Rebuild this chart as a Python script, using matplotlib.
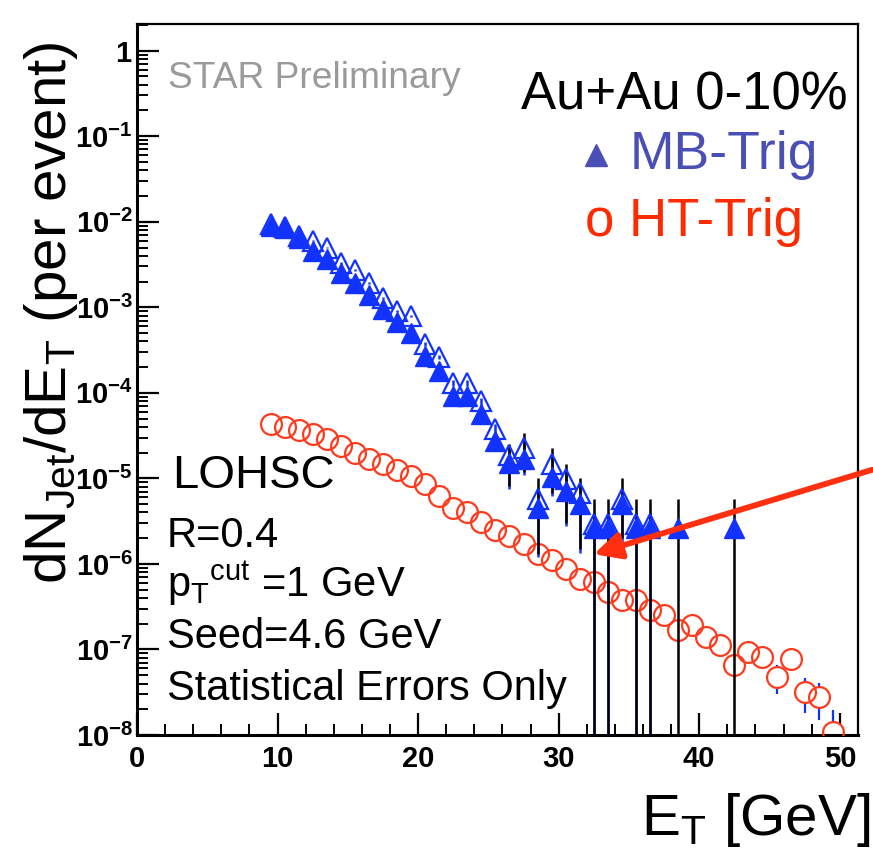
import numpy as np
import matplotlib
matplotlib.use("Agg")
import matplotlib.pyplot as plt
from matplotlib.ticker import LogLocator, MultipleLocator, NullFormatter

plt.rcParams['font.family'] = ['Liberation Sans', 'DejaVu Sans']
plt.rcParams['mathtext.fontset'] = 'custom'
plt.rcParams['mathtext.rm'] = 'Liberation Sans'
plt.rcParams['mathtext.bf'] = 'Liberation Sans:bold'
plt.rcParams['mathtext.it'] = 'Liberation Sans:italic'

# MB-Trig, filled triangles (black error bars)
mb_et = [9.5, 10.5, 11.5, 12.5, 13.5, 14.5, 15.5, 16.5, 17.5, 18.5, 19.5, 20.5,
         21.5, 22.5, 23.5, 24.5, 25.5, 26.5, 27.5, 28.5, 29.5, 30.5, 31.5, 32.5,
         33.5, 34.5, 35.5, 36.5, 38.5, 42.5]
mb_val = [9.0e-3, 8.5e-3, 6.5e-3, 4.6e-3, 3.7e-3, 2.5e-3, 1.9e-3, 1.4e-3, 9.6e-4,
          6.8e-4, 5.0e-4, 2.7e-4, 1.8e-4, 9.2e-5, 9.2e-5, 5.6e-5, 2.7e-5, 1.5e-5,
          1.7e-5, 4.5e-6, 1.05e-5, 7.1e-6, 5.0e-6, 2.6e-6, 2.6e-6, 5.0e-6, 2.6e-6,
          2.6e-6, 2.6e-6, 2.6e-6]
mb_err_up = [2e-4, 2e-4, 1.5e-4, 1.2e-4, 1e-4, 8e-5, 7e-5, 5e-5, 4e-5, 3e-5, 2.5e-5,
             1.8e-5, 1.4e-5, 1e-5, 1e-5, 8e-6, 5.5e-6, 1.0e-5, 1.7e-5, 5.5e-6, 1.2e-5,
             7.5e-6, 5e-6, 3.2e-6, 3.2e-6, 5e-6, 3.2e-6, 3.2e-6, 3.2e-6, 3.2e-6]
mb_err_dn = [2e-4, 2e-4, 1.5e-4, 1.2e-4, 1e-4, 8e-5, 7e-5, 5e-5, 4e-5, 3e-5, 2.5e-5,
             1.8e-5, 1.4e-5, 1e-5, 1e-5, 8e-6, 5.5e-6, 6.9e-6, 5e-6, 3.2e-6, 3.8e-6,
             4.1e-6, 3.5e-6, 3e-6, 3e-6, 3e-6, 3e-6, 3e-6, 3e-6, 3e-6]

# MB-Trig, open triangles (blue error bars)
mbo_et = [9.5, 10.5, 11.5, 12.5, 13.5, 14.5, 15.5, 16.5, 17.5, 18.5, 19.5, 20.5,
          21.5, 22.5, 23.5, 24.5, 25.5, 26.5, 27.5, 28.5, 29.5, 30.5, 31.5, 32.5,
          33.5, 34.5, 35.5, 36.5]
mbo_val = [9.3e-3, 8.6e-3, 6.8e-3, 6.0e-3, 5.0e-3, 3.3e-3, 2.7e-3, 1.94e-3, 1.29e-3,
           9.1e-4, 7.9e-4, 3.7e-4, 2.6e-4, 1.3e-4, 1.3e-4, 8.0e-5, 3.8e-5, 1.9e-5,
           2.25e-5, 5.8e-6, 1.46e-5, 9.8e-6, 6.7e-6, 2.9e-6, 2.9e-6, 5.8e-6, 2.9e-6,
           2.9e-6]
mbo_err_up = [2e-4, 2e-4, 1.5e-4, 1.2e-4, 1e-4, 8e-5, 7e-5, 5e-5, 4e-5, 3e-5, 2.5e-5,
              1.8e-5, 1.4e-5, 1e-5, 1e-5, 8e-6, 5e-6, 4e-6, 4e-6, 2e-6, 3e-6, 2e-6,
              2e-6, 1e-6, 1e-6, 2e-6, 1e-6, 1e-6]
mbo_err_dn = [2e-4, 2e-4, 1.5e-4, 1.2e-4, 1e-4, 8e-5, 7e-5, 5e-5, 4e-5, 3e-5, 2.5e-5,
              1.8e-5, 1.4e-5, 1e-5, 1e-5, 8e-6, 6e-6, 1.15e-5, 1.15e-5, 4.6e-6, 8.4e-6,
              7e-6, 5.35e-6, 3.2e-6, 3.2e-6, 4e-6, 3.2e-6, 3.2e-6]

# HT-Trig, open circles
ht_et = [9.5, 10.5, 11.5, 12.5, 13.5, 14.5, 15.5, 16.5, 17.5, 18.5, 19.5, 20.5,
         21.5, 22.5, 23.5, 24.5, 25.5, 26.5, 27.5, 28.5, 29.5, 30.5, 31.5, 32.5,
         33.5, 34.5, 35.5, 36.5, 37.5, 38.5, 39.5, 40.5, 41.5, 42.5, 43.5, 44.5,
         45.5, 46.5, 47.5, 48.5, 49.5]
ht_val = [4.3e-5, 4.0e-5, 3.66e-5, 3.3e-5, 2.87e-5, 2.4e-5, 1.97e-5, 1.67e-5, 1.46e-5,
          1.24e-5, 1.06e-5, 8.5e-6, 6.2e-6, 4.5e-6, 4.1e-6, 3.1e-6, 2.5e-6, 2.1e-6,
          1.73e-6, 1.32e-6, 1.12e-6, 8.8e-7, 6.7e-7, 6.2e-7, 4.75e-7, 3.8e-7, 3.8e-7,
          2.9e-7, 2.55e-7, 1.7e-7, 1.95e-7, 1.41e-7, 1.14e-7, 6.6e-8, 9.4e-8, 8.2e-8,
          4.8e-8, 7.8e-8, 3.2e-8, 2.8e-8, 1.08e-8]
ht_err = [8e-7, 7e-7, 6e-7, 5e-7, 4.5e-7, 4e-7, 3.5e-7, 3e-7, 2.7e-7, 2.4e-7, 2.1e-7,
          1.8e-7, 1.5e-7, 1.2e-7, 1.1e-7, 9e-8, 8e-8, 7e-8, 6e-8, 5e-8, 4.5e-8, 4e-8,
          3.5e-8, 3.3e-8, 2.9e-8, 2.6e-8, 2.6e-8, 2.2e-8, 2.1e-8, 1.7e-8, 1.8e-8,
          1.6e-8, 1.4e-8, 1.6e-8, 1.4e-8, 1.3e-8, 1.8e-8, 2.2e-8, 1.4e-8, 1.3e-8, 0.9e-8]

ytick_vals = [1e-8, 1e-7, 1e-6, 1e-5, 1e-4, 1e-3, 1e-2, 1e-1, 1]
ytick_labels = [r'$\mathbf{10^{-8}}$', r'$\mathbf{10^{-7}}$', r'$\mathbf{10^{-6}}$',
                r'$\mathbf{10^{-5}}$', r'$\mathbf{10^{-4}}$', r'$\mathbf{10^{-3}}$',
                r'$\mathbf{10^{-2}}$', r'$\mathbf{10^{-1}}$', r'$\mathbf{1}$']
xtick_vals = [0, 10, 20, 30, 40, 50]
xtick_labels = ['0', '10', '20', '30', '40', '50']

blue = '#1232ff'
red = '#ff3a1c'

fig = plt.figure(figsize=(8.73, 8.51), dpi=100)
ax = fig.add_axes([0.1569, 0.1363, 0.826, 0.8355])
ax.set_yscale('log')

# HT circles: error bars hidden under white disks, outlines drawn over them
ax.errorbar(ht_et, ht_val, yerr=ht_err, fmt='none', ecolor=blue, elinewidth=1.6,
            capsize=0, zorder=1)
ax.plot(ht_et, ht_val, 'o', ms=15, mfc='white', mec='none', zorder=2)
ax.plot(ht_et, ht_val, 'o', ms=15, mfc='none', mec=red, mew=1.6, zorder=3)

# MB triangles on top
ax.errorbar(mbo_et, mbo_val, yerr=[mbo_err_dn, mbo_err_up], fmt='none', ecolor=blue,
            elinewidth=1.8, capsize=0, zorder=4)
ax.errorbar(mb_et, mb_val, yerr=[mb_err_dn, mb_err_up], fmt='none', ecolor='black',
            elinewidth=1.8, capsize=0, zorder=5)
ax.plot(mb_et, mb_val, '^', ms=15, color=blue, mec=blue, zorder=6)
ax.plot(mbo_et, mbo_val, '^', ms=15, mfc='none', mec=blue, mew=1.6, zorder=7)

ax.set_xlim(0, 51.3)
ax.set_ylim(1e-8, 2.05)

ax.set_yticks(ytick_vals)
ax.set_yticklabels(ytick_labels)
ax.yaxis.set_minor_locator(LogLocator(base=10, subs=np.arange(2, 10)))
ax.yaxis.set_minor_formatter(NullFormatter())
ax.set_xticks(xtick_vals)
ax.set_xticklabels(xtick_labels, fontweight='bold')
ax.xaxis.set_minor_locator(MultipleLocator(2))

ax.tick_params(axis='both', which='major', direction='in', length=16, width=1.6,
               labelsize=21, top=False, right=False)
ax.tick_params(axis='both', which='minor', direction='in', length=8, width=1.4,
               top=False, right=False)
ax.tick_params(axis='y', which='major', pad=3)
ax.tick_params(axis='x', which='major', pad=7)
for side in ['left', 'bottom']:
    ax.spines[side].set_linewidth(2.2)
for side in ['top', 'right']:
    ax.spines[side].set_linewidth(1.6)

# arrow pointing at a MB error bar
arrow_tip = (32.5, 1.3e-6)
arrow_tail = (52.3, 1.26e-5)
ax.annotate('', xy=arrow_tip, xytext=arrow_tail, annotation_clip=False,
            arrowprops=dict(arrowstyle='-|>', color='#ff3010', lw=4.2,
                            mutation_scale=40, shrinkA=0, shrinkB=0), zorder=10)

# texts
fig.text(0.1924, 0.9083, 'STAR Preliminary', color='#9a9a9a', fontsize=26.7, va='center')
fig.text(0.9714, 0.888, 'Au+Au 0-10%', color='black', fontsize=38, va='center', ha='right')
fig.add_artist(plt.Line2D([0.683], [1 - 155 / 851], marker='^', ms=16, color='#4a4fb5',
                          transform=fig.transFigure))
fig.text(0.7217, 1 - 155 / 851, 'MB-Trig', color='#4a4fb5', fontsize=38.5, va='center')
fig.text(0.670, 1 - 222 / 851, 'o HT-Trig', color='#ff2a00', fontsize=38, va='center')

fig.text(172 / 873, 1 - 488 / 851, 'LOHSC', fontsize=34, va='baseline')
fig.text(167 / 873, 1 - 547 / 851, 'R=0.4', fontsize=30, va='baseline')
fig.text(167 / 873, 1 - 597 / 851, r'p$_{\rm T}{}^{\rm cut}$ =1 GeV', fontsize=30, va='baseline')
fig.text(167 / 873, 1 - 648 / 851, 'Seed=4.6 GeV', fontsize=30, va='baseline')
fig.text(167 / 873, 1 - 700 / 851, 'Statistical Errors Only', fontsize=30, va='baseline')

fig.text(0.058, 0.633, r'dN$_{\rm Jet}$/dE$_{\rm T}$ (per event)', fontsize=42,
         rotation=90, va='center', ha='center')
fig.text(0.997, 1 - 835 / 851, r'E$_{\rm T}$ [GeV]', fontsize=42, ha='right', va='baseline')

fig.savefig('out.png', dpi=100)
